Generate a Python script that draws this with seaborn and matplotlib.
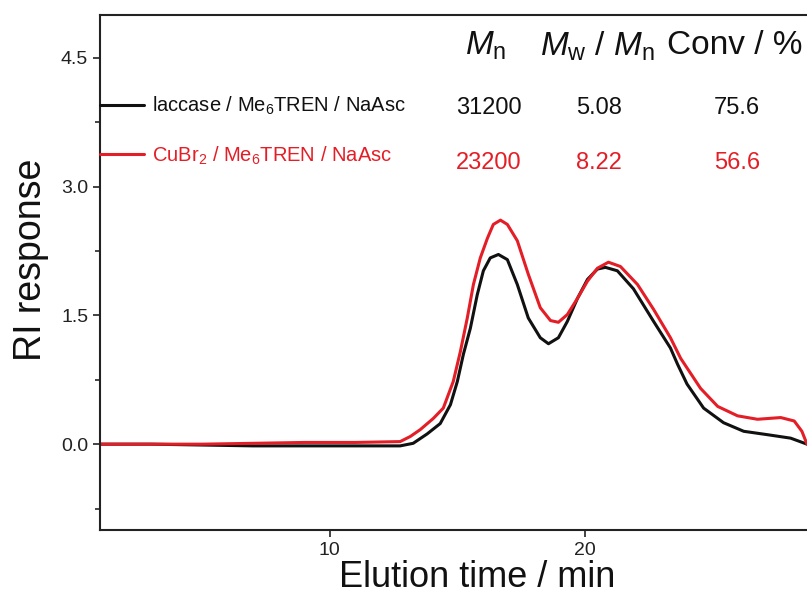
import matplotlib
matplotlib.use("Agg")
import matplotlib.pyplot as plt
import seaborn as sns
import pandas as pd

# ---- data ----
black_x = [1.0, 3.0, 5.0, 7.0, 9.0, 11.0, 12.76, 13.27, 13.82, 14.33, 14.73, 15.0, 15.24,
           15.51, 15.78, 16.02, 16.29, 16.61, 16.96, 17.35, 17.78, 18.25, 18.57, 18.96,
           19.31, 19.71, 20.1, 20.49, 20.8, 21.27, 21.9, 22.69, 23.35, 23.63, 24.0, 24.65,
           25.43, 26.22, 27.16, 28.06, 28.7]
black_y = [0.0, 0.0, -0.01, -0.02, -0.02, -0.02, -0.02, 0.01, 0.12, 0.24, 0.46, 0.73, 1.05,
           1.35, 1.74, 2.02, 2.17, 2.21, 2.15, 1.86, 1.47, 1.24, 1.17, 1.24,
           1.43, 1.70, 1.92, 2.04, 2.06, 2.02, 1.81, 1.43, 1.12, 0.93, 0.70, 0.42,
           0.25, 0.15, 0.11, 0.07, 0.0]

red_x = [1.0, 3.0, 5.0, 7.0, 9.0, 11.0, 12.76, 13.16, 13.55, 14.06, 14.45, 14.84, 15.12,
         15.39, 15.63, 15.9, 16.18, 16.41, 16.69, 16.96, 17.35, 17.78, 18.25, 18.65, 18.96,
         19.31, 19.71, 20.1, 20.49, 20.92, 21.39, 22.06, 22.69, 23.35, 23.75, 24.53, 25.2,
         25.98, 26.76, 27.67, 28.2, 28.5, 28.7]
red_y = [0.0, 0.0, 0.0, 0.01, 0.02, 0.02, 0.03, 0.09, 0.17, 0.30, 0.42, 0.73, 1.08,
         1.47, 1.86, 2.17, 2.40, 2.56, 2.61, 2.56, 2.37, 1.98, 1.59, 1.44, 1.42,
         1.51, 1.70, 1.90, 2.05, 2.12, 2.07, 1.86, 1.57, 1.24, 1.0, 0.65, 0.44,
         0.33, 0.29, 0.31, 0.27, 0.15, 0.0]

series_labels = [r"laccase / Me$_6$TREN / NaAsc", r"CuBr$_2$ / Me$_6$TREN / NaAsc"]
series_colors = ["#111111", "#e41e26"]
col_headers = [r"$\mathit{M}_\mathrm{n}$", r"$\mathit{M}_\mathrm{w}$ / $\mathit{M}_\mathrm{n}$", "Conv / %"]
mn_vals = ["31200", "23200"]
pdi_vals = ["5.08", "8.22"]
conv_vals = ["75.6", "56.6"]

y_ticks = [0.0, 1.5, 3.0, 4.5]
y_minor = [-0.75, 0.75, 2.25, 3.75]
x_ticks = [10, 20]

# ---- build frame ----
df = pd.concat([
    pd.DataFrame({"t": black_x, "ri": black_y, "s": series_labels[0]}),
    pd.DataFrame({"t": red_x, "ri": red_y, "s": series_labels[1]}),
], ignore_index=True)

sns.set_theme(style="ticks")
plt.rcParams["font.family"] = ["Liberation Sans", "DejaVu Sans"]
plt.rcParams["mathtext.fontset"] = "custom"
plt.rcParams["mathtext.rm"] = "Liberation Sans"
plt.rcParams["mathtext.it"] = "Liberation Sans:italic"
plt.rcParams["mathtext.default"] = "regular"
plt.rcParams["lines.solid_joinstyle"] = "round"
plt.rcParams["lines.solid_capstyle"] = "round"

W, H = 807, 602
fig = plt.figure(figsize=(W / 100, H / 100), dpi=100)
ax = fig.add_axes([100 / W, 1 - 530 / H, 1 - 100 / W, (530 - 15) / H])

sns.lineplot(data=df, x="t", y="ri", hue="s", palette=dict(zip(series_labels, series_colors)),
             linewidth=2.2, ax=ax, sort=False, estimator=None)

ax.set_xticks(x_ticks)
ax.set_xticklabels([str(v) for v in x_ticks])
ax.set_yticks(y_ticks)
ax.set_yticklabels([f"{v:.1f}" for v in y_ticks])
ax.set_yticks(y_minor, minor=True)
ax.set_xlim(1.0, 28.7)
ax.set_ylim(-1.0, 5.0)
ax.tick_params(axis="both", which="major", direction="out", length=5, width=1.2,
               labelsize=14, colors="#222222")
ax.tick_params(axis="y", which="minor", direction="out", length=3.5, width=1.2)
ax.spines["right"].set_visible(False)
for sp in ["left", "bottom", "top"]:
    ax.spines[sp].set_linewidth(1.5)
    ax.spines[sp].set_color("#222222")

ax.set_xlabel("Elution time / min", fontsize=26, color="#111111")
ax.set_ylabel("RI response", fontsize=27, color="#111111")
ax.xaxis.set_label_coords(0.533, -0.058)
ax.yaxis.set_label_coords(-0.072, 0.524)

leg = ax.legend(loc="upper left", bbox_to_anchor=(0.0, 0.845), frameon=False,
                fontsize=14.5, handlelength=2.2, handletextpad=0.4, labelspacing=1.35,
                borderaxespad=0.0, borderpad=0.0, labelcolor="linecolor")
for line in leg.get_lines():
    line.set_linewidth(2.2)

# table
def fx(px):
    return px / W
def fy(py):
    return 1 - py / H

hdr_x = [486, 597, 735]
for x, h in zip(hdr_x, col_headers):
    fig.text(fx(x), fy(46), h, fontsize=24, ha="center", va="center", color="#111111")

row_y = [108, 163]
for r in range(2):
    for x, v in zip([489, 599, 737], [mn_vals[r], pdi_vals[r], conv_vals[r]]):
        fig.text(fx(x), fy(row_y[r]), v, fontsize=17, ha="center", va="center",
                 color=series_colors[r])

fig.savefig("out.png", dpi=100)
